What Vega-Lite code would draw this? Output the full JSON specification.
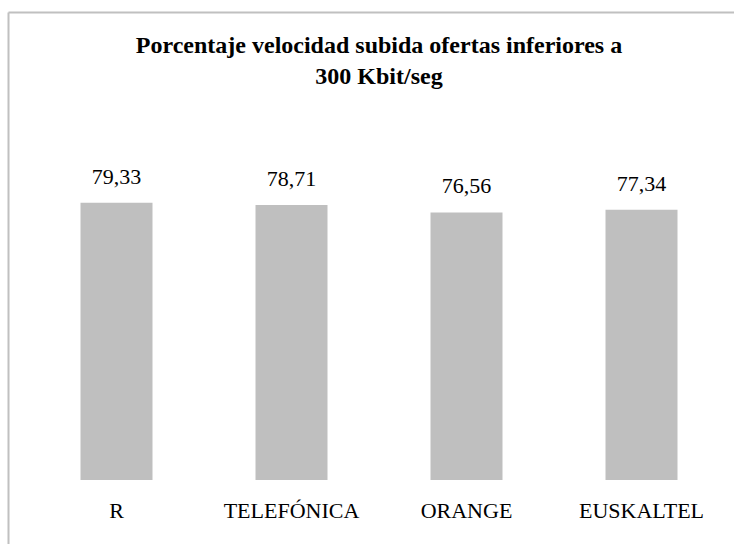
{
  "$schema": "https://vega.github.io/schema/vega-lite/v6.json",
  "autosize": "none",
  "padding": {"left": 8, "top": 12, "right": 0, "bottom": 0},
  "width": 726,
  "height": 532,
  "background": "white",
  "config": {
    "view": {"stroke": null},
    "locale": {"number": {"decimal": ",", "thousands": ".", "grouping": [3], "currency": ["", " €"]}}
  },
  "title": {
    "text": ["Porcentaje velocidad subida ofertas inferiores a", "300 Kbit/seg"],
    "font": "Liberation Serif",
    "fontSize": 24,
    "fontWeight": "bold",
    "color": "#000000",
    "lineHeight": 31.5,
    "anchor": "middle",
    "frame": "group",
    "offset": -77,
    "dx": 8
  },
  "data": {
    "values": [
      {"operador": "R", "valor": 79.33},
      {"operador": "TELEFÓNICA", "valor": 78.71},
      {"operador": "ORANGE", "valor": 76.56},
      {"operador": "EUSKALTEL", "valor": 77.34}
    ]
  },
  "encoding": {
    "y": {
      "field": "valor",
      "type": "quantitative",
      "scale": {"domain": [-18.32, 133.94], "nice": false, "zero": false},
      "axis": {
        "title": null,
        "orient": "left",
        "domain": true,
        "domainColor": "#c0c0c0",
        "domainWidth": 2,
        "ticks": false,
        "labels": false,
        "grid": false
      }
    }
  },
  "layer": [
    {
      "mark": {"type": "bar", "color": "#bfbfbf"},
      "encoding": {
        "x": {
          "field": "operador",
          "type": "nominal",
          "sort": null,
          "scale": {"paddingInner": 0.5886, "paddingOuter": 0.3686, "align": 0.562},
          "axis": {
            "title": null,
            "orient": "bottom",
            "domain": false,
            "ticks": false,
            "tickSize": 0,
            "grid": false,
            "labelAngle": 0,
            "labelPadding": 0,
            "labelBaseline": "alphabetic",
            "labelFont": "Liberation Serif",
            "labelFontSize": 22,
            "labelColor": "#000000",
            "labelOverlap": false,
            "labelLimit": 400,
            "offset": -27
          }
        },
        "y2": {"datum": 0}
      }
    },
    {
      "mark": {"type": "text", "dy": -19, "baseline": "alphabetic", "font": "Liberation Serif", "fontSize": 22, "color": "#000000"},
      "encoding": {
        "x": {
          "field": "operador",
          "type": "nominal",
          "sort": null,
          "axis": {
            "title": null,
            "orient": "top",
            "domain": true,
            "domainColor": "#c0c0c0",
            "domainWidth": 2,
            "ticks": false,
            "labels": false,
            "grid": false
          }
        },
        "text": {"field": "valor", "type": "quantitative", "format": ".2f"}
      }
    }
  ],
  "resolve": {"axis": {"x": "independent"}}
}
